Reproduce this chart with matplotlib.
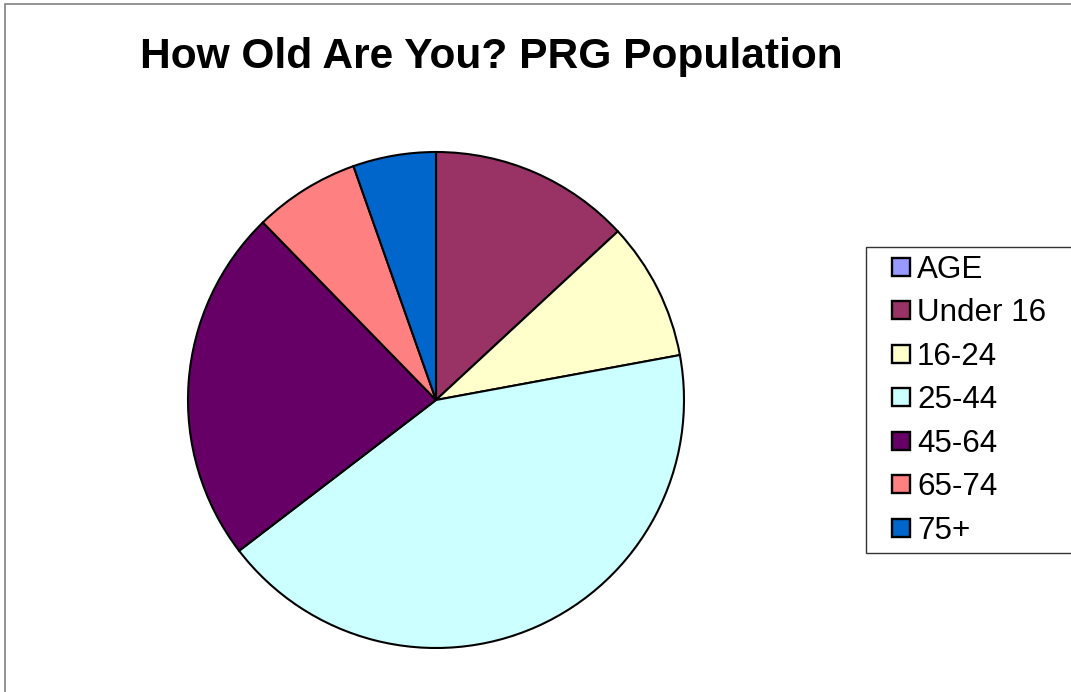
import matplotlib
matplotlib.use("Agg")
import matplotlib.pyplot as plt
from matplotlib.patches import Rectangle
from matplotlib.lines import Line2D

categories = ["AGE", "Under 16", "16-24", "25-44", "45-64", "65-74", "75+"]
values = [0.0, 13.1, 9.0, 42.5, 23.1, 6.9, 5.4]
colors = ["#9999FF", "#993366", "#FFFFCC", "#CCFFFF", "#660066", "#FF8080", "#0066CC"]
title = "How Old Are You? PRG Population"

plt.rcParams['font.family'] = ['Liberation Sans', 'DejaVu Sans']

W, H = 1071, 692
fig = plt.figure(figsize=(W / 100, H / 100), dpi=100)
fig.patch.set_facecolor("white")

# outer chart border (right/bottom run off the image)
fig.patches.append(Rectangle((5 / W, -0.05), 1.2, 1 - 4 / H + 0.05, transform=fig.transFigure,
                             fill=False, edgecolor="#808080", linewidth=1.2))

fig.text(491 / W, 1 - 68 / H, title, ha="center", va="baseline", fontsize=30.6, fontweight="bold")

cx, cy, r = 436, 400, 248
ax = fig.add_axes([(cx - r) / W, (H - cy - r) / H, 2 * r / W, 2 * r / H])
pv = [v for v in values if v > 0]
pc = [c for v, c in zip(values, colors) if v > 0]
ax.pie(pv, colors=pc, startangle=90, counterclock=False, radius=1,
       wedgeprops=dict(edgecolor="black", linewidth=1.5))
ax.set_xlim(-1.0, 1.0)
ax.set_ylim(-1.0, 1.0)
ax.set_aspect("equal")
ax.axis("off")

handles = [Line2D([], [], linestyle="none", marker="s", markersize=12.5,
                  markerfacecolor=c, markeredgecolor="black", markeredgewidth=1.7)
           for c in colors]
x0 = 866 / W
y1 = 1 - 247 / H
leg = fig.legend(handles, categories, loc="upper left",
                 bbox_to_anchor=(x0, y1 - 0.5, 1.02 - x0, 0.5), mode="expand",
                 fontsize=22.6, frameon=True, fancybox=False, edgecolor="black",
                 handlelength=1.736, handletextpad=-0.358,
                 labelspacing=0.43, borderpad=0.247, borderaxespad=0)
leg.get_frame().set_linewidth(1.0)

fig.savefig("out.png", dpi=100, facecolor="white")
